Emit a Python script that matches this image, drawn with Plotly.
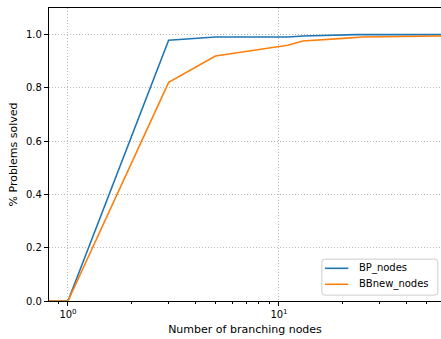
import numpy as np
import plotly.graph_objects as go

# Cumulative share of problems solved vs. number of branching nodes
bp_nodes_x = [0.8, 1, 3, 5, 11, 13, 23, 60]
bp_nodes_y = [0.0, 0.0, 0.979, 0.991, 0.991, 0.995, 1.0, 1.0]

bbnew_nodes_x = [0.8, 1, 3, 5, 11, 13, 21, 25, 60]
bbnew_nodes_y = [0.0, 0.0, 0.821, 0.920, 0.960, 0.976, 0.987, 0.991, 0.995]

series_names = ["BP_nodes", "BBnew_nodes"]
series_colors = ["#1f77b4", "#ff7f0e"]

y_ticks = [0.0, 0.2, 0.4, 0.6, 0.8, 1.0]
x_major = [1, 10]
x_major_text = ["10<sup>0</sup>", "10<sup>1</sup>"]
x_minor = [0.9, 2, 3, 4, 5, 6, 7, 8, 9, 20, 30, 40, 50]

font_family = "DejaVu Sans"

fig = go.Figure()
for xs, ys, name, color in zip(
    [bp_nodes_x, bbnew_nodes_x], [bp_nodes_y, bbnew_nodes_y], series_names, series_colors
):
    fig.add_trace(
        go.Scatter(x=xs, y=ys, mode="lines", name=name, showlegend=False,
                   line=dict(color=color, width=1.6))
    )

# Legend box drawn in plot-area (paper) coordinates, matplotlib style
x0, x1, y0, y1, r = 0.696, 0.992, 0.020, 0.143, 0.008
ry = r * 392 / 293
box_path = (
    f"M {x0 + r},{y0} L {x1 - r},{y0} Q {x1},{y0} {x1},{y0 + ry} "
    f"L {x1},{y1 - ry} Q {x1},{y1} {x1 - r},{y1} "
    f"L {x0 + r},{y1} Q {x0},{y1} {x0},{y1 - ry} "
    f"L {x0},{y0 + ry} Q {x0},{y0} {x0 + r},{y0} Z"
)
fig.add_shape(type="path", path=box_path, xref="paper", yref="paper",
              line=dict(color="#cccccc", width=1),
              fillcolor="rgba(255,255,255,0.8)", layer="above")

entry_y = [0.1116, 0.057]
for name, color, ey in zip(series_names, series_colors, entry_y):
    fig.add_shape(type="line", xref="paper", yref="paper",
                  x0=0.704, x1=0.7635, y0=ey, y1=ey,
                  line=dict(color=color, width=1.6), layer="above")
    fig.add_annotation(text=name, xref="paper", yref="paper",
                       x=0.785, y=ey, xanchor="left", yanchor="middle",
                       showarrow=False, font=dict(size=10, color="black"))

fig.update_layout(
    width=441,
    height=339,
    margin=dict(l=49, r=0, t=8, b=38),
    paper_bgcolor="white",
    plot_bgcolor="white",
    font=dict(family=font_family, size=10, color="black"),
    showlegend=False,
)

grid_style = dict(showgrid=True, gridcolor="#b8b8b8", griddash="1px,2px",
                  gridwidth=0.8, zeroline=False)

fig.update_xaxes(
    type="log",
    range=[np.log10(0.813), np.log10(58.6)],
    tickvals=x_major,
    ticktext=x_major_text,
    ticks="outside",
    ticklen=4,
    tickwidth=1,
    tickcolor="black",
    showline=True,
    linecolor="black",
    linewidth=1.2,
    mirror=True,
    minor=dict(tickvals=x_minor, ticks="outside", ticklen=2,
               tickcolor="black", showgrid=False),
    title=dict(text="Number of branching nodes", standoff=6,
               font=dict(size=11)),
    **grid_style,
)

fig.update_yaxes(
    range=[0, 1.1],
    tickvals=y_ticks,
    tickformat=".1f",
    ticks="outside",
    ticklen=4,
    tickwidth=1,
    tickcolor="black",
    showline=True,
    linecolor="black",
    linewidth=1.2,
    title=dict(text="% Problems solved", standoff=6, font=dict(size=11)),
    **grid_style,
)

fig.write_html("out.html")
